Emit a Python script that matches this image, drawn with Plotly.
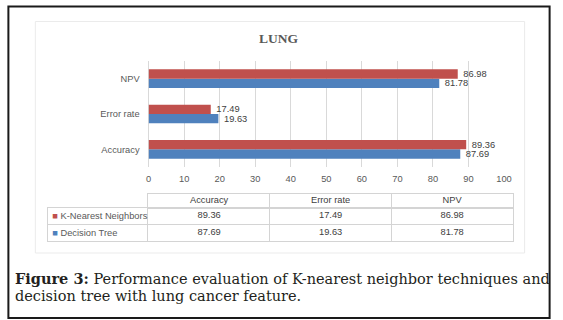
import plotly.graph_objects as go

# ---------------- data ----------------
categories = ["Accuracy", "Error rate", "NPV"]
knn_values = [89.36, 17.49, 86.98]
dt_values = [87.69, 19.63, 81.78]
series_names = ["K-Nearest Neighbors", "Decision Tree"]
x_tick_values = [0, 10, 20, 30, 40, 50, 60, 70, 80, 90, 100]
chart_title = "LUNG"
caption_line1 = "<b>Figure 3:</b> Performance evaluation of K-nearest neighbor techniques and"
caption_line2 = "decision tree with lung cancer feature."

# ---------------- style ----------------
W, H = 563, 320


def px(x):
    return x / W


def py(y):
    return 1 - y / H


RED = "#C0504D"
BLUE = "#4F81BD"
AX = "#595959"
TXT = "#404040"
GRID = "#d9d9d9"
TB = "#d4d4d4"
FONT = "Liberation Sans"
FS = 9.3
CAP_FONT = "DejaVu Serif"
CAP_FS = 14.5
series_colors = {"K-Nearest Neighbors": RED, "Decision Tree": BLUE}

fig = go.Figure()

# bars (first trace drawn lower in each group)
for name, vals in [("Decision Tree", dt_values), ("K-Nearest Neighbors", knn_values)]:
    fig.add_trace(go.Bar(
        y=categories, x=vals, name=name, orientation="h",
        marker=dict(color=series_colors[name], line=dict(width=0)),
        texttemplate="\u00a0%{x:.2f}", textposition="outside",
        textfont=dict(family=FONT, size=FS, color=TXT),
        constraintext="none", cliponaxis=False, hoverinfo="skip",
    ))

# data table: header row
fig.add_trace(go.Scatter(
    x=categories, y=["header"] * len(categories), mode="text", text=categories,
    textfont=dict(family=FONT, size=FS, color=TXT),
    xaxis="x4", yaxis="y4", hoverinfo="skip", cliponaxis=False,
))
# data table: value rows
for name, vals in [("K-Nearest Neighbors", knn_values), ("Decision Tree", dt_values)]:
    fig.add_trace(go.Scatter(
        x=categories, y=[name] * len(categories), mode="text",
        text=[f"{v:.2f}" for v in vals],
        textfont=dict(family=FONT, size=FS, color=TXT),
        xaxis="x2", yaxis="y2", hoverinfo="skip", cliponaxis=False,
    ))
# legend column (labels come from axis tick labels)
fig.add_trace(go.Scatter(
    x=[0.5] * len(series_names), y=series_names, mode="markers",
    marker=dict(opacity=0), xaxis="x3", yaxis="y3", hoverinfo="skip",
))

tickfont = dict(family=FONT, size=FS, color=AX)
legend_ticktext = [
    f'<span style="color:{series_colors[n]}">\u25A0</span> {n}' for n in series_names
]

fig.update_layout(
    width=W, height=H,
    margin=dict(l=0, r=0, t=0, b=0),
    paper_bgcolor="white", plot_bgcolor="white",
    showlegend=False,
    barmode="group", bargap=0.47, bargroupgap=0,
    xaxis=dict(
        domain=[px(148.5), px(511)], anchor="y", range=[0, 100],
        tickvals=x_tick_values, showgrid=True, gridcolor=GRID, gridwidth=1,
        zeroline=True, zerolinecolor=GRID, zerolinewidth=1, showline=False,
        ticks="", tickfont=tickfont, ticklabelstandoff=5, fixedrange=True,
    ),
    yaxis=dict(
        domain=[py(167), py(61)], anchor="x", type="category",
        categoryorder="array", categoryarray=categories,
        showgrid=False, zeroline=False, showline=False, ticks="",
        tickfont=tickfont, ticklabelstandoff=8, fixedrange=True,
    ),
    # table body
    xaxis2=dict(
        domain=[px(148.3), px(520)], anchor="y2", type="category",
        categoryorder="array", categoryarray=categories, range=[-0.5, 2.5],
        tickson="boundaries", showgrid=True, gridcolor=TB, showline=True,
        mirror=True, linecolor=TB, showticklabels=False, ticks="", fixedrange=True,
    ),
    yaxis2=dict(
        domain=[py(241.3), py(207.7)], anchor="x2", type="category",
        categoryorder="array", categoryarray=series_names[::-1], range=[-0.5, 1.5],
        tickson="boundaries", showgrid=True, gridcolor=TB, showline=True,
        mirror=True, linecolor=TB, showticklabels=False, ticks="", fixedrange=True,
    ),
    # legend column
    xaxis3=dict(
        domain=[px(45.3), px(148.3)], anchor="y3", range=[0, 1],
        showgrid=False, zeroline=False, showline=True, mirror=True, linecolor=TB,
        showticklabels=False, ticks="", fixedrange=True,
    ),
    yaxis3=dict(
        domain=[py(241.3), py(207.7)], anchor="free", position=px(45.3), side="right",
        type="category", categoryorder="array", categoryarray=series_names[::-1],
        range=[-0.5, 1.5], tickson="boundaries", showgrid=True, gridcolor=TB,
        showline=True, linecolor=TB, ticks="",
        tickvals=series_names, ticktext=legend_ticktext, tickfont=tickfont,
        ticklabelstandoff=2, fixedrange=True,
    ),
    # table header
    xaxis4=dict(
        domain=[px(148.3), px(520)], anchor="y4", type="category",
        categoryorder="array", categoryarray=categories, range=[-0.5, 2.5],
        tickson="boundaries", showgrid=True, gridcolor=TB, showline=True,
        mirror=True, linecolor=TB, showticklabels=False, ticks="", fixedrange=True,
    ),
    yaxis4=dict(
        domain=[py(207.7), py(194)], anchor="x4", type="category",
        range=[-0.5, 0.5], showgrid=False, showline=True, mirror=True,
        linecolor=TB, showticklabels=False, ticks="", fixedrange=True,
    ),
    shapes=[
        dict(type="rect", xref="paper", yref="paper",
             x0=px(5.5), x1=px(557.5), y0=py(318), y1=py(6.5),
             line=dict(color="#1a1a1a", width=2), layer="above"),
        dict(type="rect", xref="paper", yref="paper",
             x0=px(33), x1=px(532), y0=py(253), y1=py(21.5),
             line=dict(color="#ebebeb", width=1), layer="below"),
    ],
    annotations=[
        dict(text=f"<b>{chart_title}</b>", xref="paper", yref="paper",
             x=px(282), y=py(38.8), xanchor="center", yanchor="middle",
             showarrow=False, font=dict(family="Liberation Serif", size=13.5, color=AX)),
        dict(text=caption_line1, xref="paper", yref="paper",
             x=px(10), y=py(278.6), xanchor="left", yanchor="middle",
             showarrow=False, font=dict(family=CAP_FONT, size=CAP_FS, color="#231F20")),
        dict(text=caption_line2, xref="paper", yref="paper",
             x=px(10), y=py(296.2), xanchor="left", yanchor="middle",
             showarrow=False, font=dict(family=CAP_FONT, size=CAP_FS, color="#231F20")),
    ],
)

fig.write_html(
    "out.html",
    config={"displayModeBar": False, "staticPlot": True},
    post_script="document.body.style.margin='0';document.body.style.overflow='hidden';",
)
